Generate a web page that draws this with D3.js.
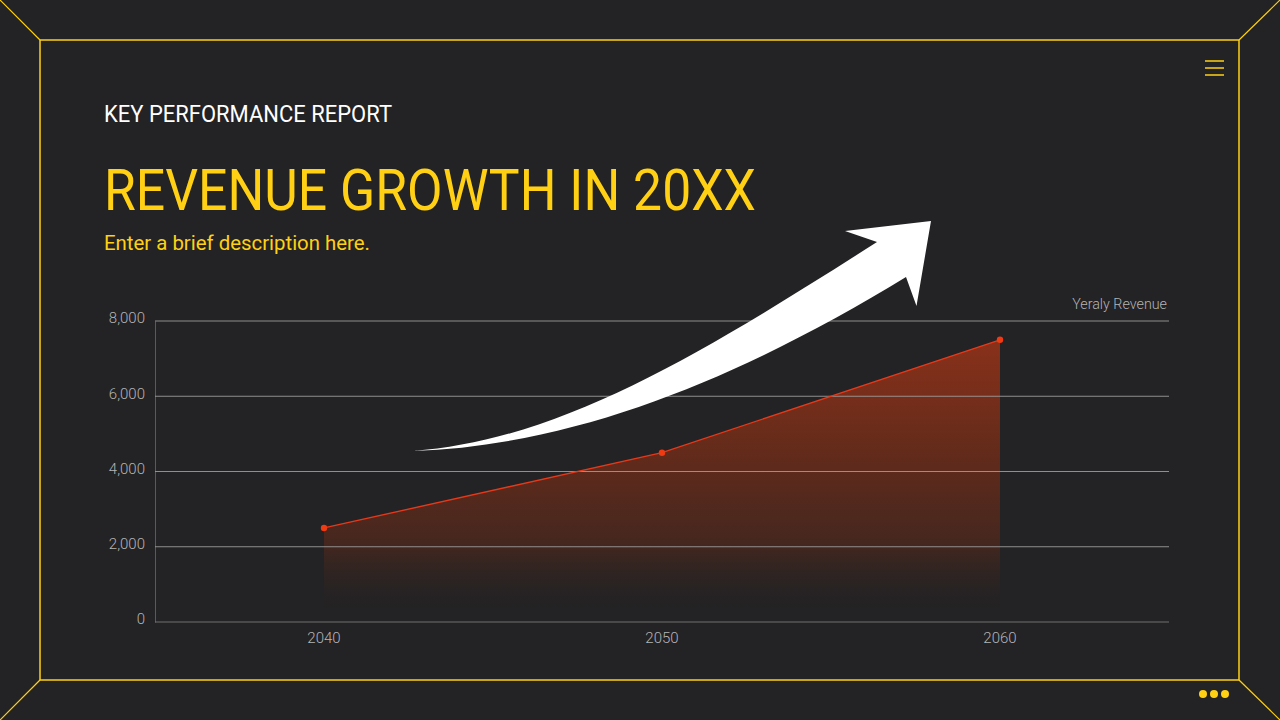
<!DOCTYPE html>
<html>
<head>
<meta charset="utf-8">
<script src="https://cdn.jsdelivr.net/npm/d3@7"></script>
<style>
  html, body { margin: 0; padding: 0; background: #232224; }
  svg { display: block; }
  text { font-family: "Roboto", sans-serif; }
  .axis text { fill: #b4b4b4; font-size: 15px; font-weight: 300; }
</style>
</head>
<body>
<div id="chart"></div>
<script>
// Chart data
const years = ["2040", "2050", "2060"];
const revenue = [2500, 4500, 7500];
const yTicks = [0, 2000, 4000, 6000, 8000];
const seriesName = "Yeraly Revenue";

const W = 1280, H = 720;
const yellow = "#ffd014", red = "#e5391a";

const svg = d3.select("#chart").append("svg")
    .attr("width", W)
    .attr("height", H);

svg.append("rect").attr("width", W).attr("height", H).attr("fill", "#232224");

// Gradient under the line
const grad = svg.append("defs").append("linearGradient")
    .attr("id", "areaFill")
    .attr("x1", 0).attr("x2", 0).attr("y1", 0).attr("y2", 1);
grad.append("stop").attr("offset", "0%").attr("stop-color", "#89311a").attr("stop-opacity", 1);
grad.append("stop").attr("offset", "45%").attr("stop-color", "#5e2a1b").attr("stop-opacity", 1);
grad.append("stop").attr("offset", "72%").attr("stop-color", "#45271f").attr("stop-opacity", 1);
grad.append("stop").attr("offset", "96%").attr("stop-color", "#2a2422").attr("stop-opacity", 0);

// Frame and corner diagonals
const frame = svg.append("g").attr("stroke", yellow).attr("fill", "none");
frame.append("rect")
    .attr("x", 40).attr("y", 40).attr("width", 1199).attr("height", 640)
    .attr("stroke-width", 1.5);
[[0, 0, 40, 40], [1280, 0, 1239, 40], [0, 720, 40, 680], [1280, 720, 1239, 680]].forEach(d => {
    frame.append("line")
        .attr("x1", d[0]).attr("y1", d[1]).attr("x2", d[2]).attr("y2", d[3])
        .attr("stroke-width", 1.2);
});

// Menu icon
[61, 68, 75].forEach(y => {
    svg.append("line")
        .attr("x1", 1205).attr("x2", 1224).attr("y1", y).attr("y2", y)
        .attr("stroke", yellow).attr("stroke-width", 1.5);
});

// Dots bottom right
[1203, 1214, 1225].forEach(x => {
    svg.append("circle").attr("cx", x).attr("cy", 694).attr("r", 4).attr("fill", yellow);
});

// Headings
svg.append("text").attr("x", 104).attr("y", 122)
    .attr("textLength", 288).attr("lengthAdjust", "spacingAndGlyphs")
    .attr("font-size", 23).attr("fill", "#ffffff")
    .text("KEY PERFORMANCE REPORT");
svg.append("text").attr("x", 104).attr("y", 210)
    .attr("textLength", 652).attr("lengthAdjust", "spacingAndGlyphs")
    .attr("font-size", 57).attr("fill", yellow)
    .text("REVENUE GROWTH IN 20XX");
svg.append("text").attr("x", 104).attr("y", 250)
    .attr("textLength", 266).attr("lengthAdjust", "spacingAndGlyphs")
    .attr("font-size", 20).attr("fill", yellow)
    .text("Enter a brief description here.");

// Scales
const x = d3.scaleBand().domain(years).range([155, 1169]);
const y = d3.scaleLinear().domain([0, 8000]).range([622, 321]);
const cx = d => x(d) + x.bandwidth() / 2;

// Axes
const yAxis = svg.append("g").attr("class", "axis")
    .attr("transform", "translate(155,0)")
    .call(d3.axisLeft(y).tickValues(yTicks).tickFormat(d3.format(",")).tickSize(0).tickPadding(10));
yAxis.select(".domain").attr("stroke", "#5a5a5a");
yAxis.selectAll("text").attr("dy", "0.12em");

const xAxis = svg.append("g").attr("class", "axis")
    .attr("transform", "translate(0,622)")
    .call(d3.axisBottom(x).tickSize(0).tickPadding(10));
xAxis.select(".domain").remove();

// Series name
svg.append("text")
    .attr("x", 1167).attr("y", 309)
    .attr("text-anchor", "end")
    .attr("font-size", 14.3).attr("font-weight", 300).attr("fill", "#b4b4b4")
    .text(seriesName);

// Area, grid, line, points
const points = years.map((d, i) => ({ year: d, value: revenue[i] }));

svg.append("path")
    .datum(points)
    .attr("fill", "url(#areaFill)")
    .attr("d", d3.area().x(d => cx(d.year)).y0(y(0)).y1(d => y(d.value)));

svg.append("g")
    .selectAll("line")
    .data(yTicks)
    .join("line")
    .attr("x1", 155).attr("x2", 1169)
    .attr("y1", d => y(d)).attr("y2", d => y(d))
    .attr("stroke", d => d === 0 ? "#7c7c7c" : "#9c9c9c")
    .attr("stroke-width", 0.9);

svg.append("path")
    .datum(points)
    .attr("fill", "none")
    .attr("stroke", red)
    .attr("stroke-width", 1.4)
    .attr("d", d3.line().x(d => cx(d.year)).y(d => y(d.value)));

svg.append("g")
    .selectAll("circle")
    .data(points)
    .join("circle")
    .attr("cx", d => cx(d.year))
    .attr("cy", d => y(d.value))
    .attr("r", 3.2)
    .attr("fill", "#f03a12");

// White arrow on top
svg.append("path")
    .attr("fill", "#ffffff")
    .attr("d", "M413,451 C560,440 700,355 877,242 L845,231 L931,221 L916.5,306 L906,277 C760,366 590,445 413,451 Z");
</script>
</body>
</html>
